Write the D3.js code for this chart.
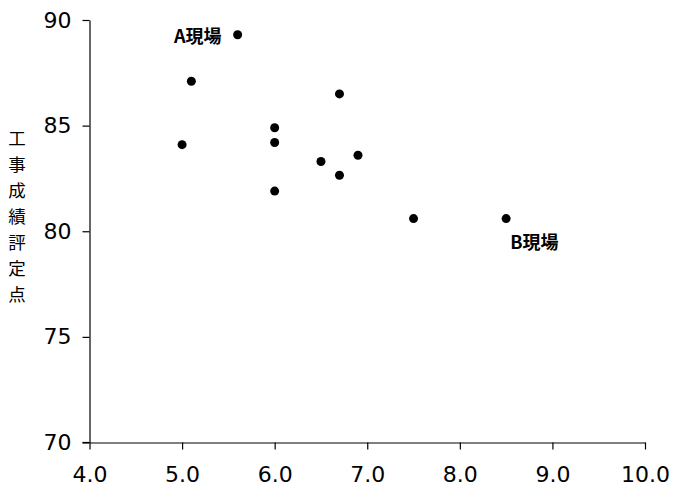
<!DOCTYPE html>
<html>
<head>
<meta charset="utf-8">
<script src="https://cdn.jsdelivr.net/npm/d3@7"></script>
<style>
  html, body { margin: 0; padding: 0; background: #fff; }
  svg { display: block; }
</style>
</head>
<body>
<script>
// ---- data ----
const xValues = [5.6, 5.1, 6.7, 6.0, 5.0, 6.0, 6.9, 6.5, 6.7, 6.0, 7.5, 8.5];
const yValues = [89.3, 87.1, 86.5, 84.9, 84.1, 84.2, 83.6, 83.3, 82.65, 81.9, 80.6, 80.6];
const xTicks = [4.0, 5.0, 6.0, 7.0, 8.0, 9.0, 10.0];
const yTicks = [70, 75, 80, 85, 90];
const annotations = [
  { text: "A現場", x: 5.6, y: 89.3 },
  { text: "B現場", x: 8.5, y: 80.6 }
];
const yTitle = "工事成績評定点";

const W = 686, H = 495;
const svg = d3.select("body").append("svg").attr("width", W).attr("height", H);

const x = d3.scaleLinear().domain([4, 10]).range([89.5, 645]);
const y = d3.scaleLinear().domain([70, 90]).range([442.5, 20]);

const tickFont = "'DejaVu Sans', sans-serif";

const xAxis = svg.append("g")
  .attr("transform", "translate(0,442.5)")
  .call(d3.axisBottom(x).tickValues(xTicks).tickFormat(d3.format(".1f")).tickSize(7).tickSizeOuter(0).tickPadding(17));
const yAxis = svg.append("g")
  .attr("transform", "translate(89.5,0)")
  .call(d3.axisLeft(y).tickValues(yTicks).tickFormat(d3.format("d")).tickSize(7).tickSizeOuter(0).tickPadding(11));

[xAxis, yAxis].forEach(g => {
  g.selectAll("path.domain").attr("stroke", "#000").attr("stroke-width", 1.2);
  g.selectAll(".tick line").attr("stroke", "#000").attr("stroke-width", 1.2);
  g.selectAll(".tick text").attr("fill", "#000")
    .style("font-family", tickFont).style("font-size", "22px");
});
// extend x-axis line to the left to meet the y tick at 70
svg.append("line")
  .attr("x1", x(4) - 7).attr("x2", x(4))
  .attr("y1", 442.5).attr("y2", 442.5)
  .attr("stroke", "#000").attr("stroke-width", 1.2);

// points
svg.append("g").selectAll("circle")
  .data(xValues.map((v, i) => ({ x: v, y: yValues[i] })))
  .join("circle")
  .attr("cx", d => x(d.x))
  .attr("cy", d => y(d.y))
  .attr("r", 4.5)
  .attr("fill", "#000");

// annotations
const ann = svg.append("g").style("font-family", "'Noto Sans CJK JP', sans-serif")
  .style("font-size", "18px").style("font-weight", "bold");
ann.append("text")
  .attr("x", x(annotations[0].x) - 16).attr("y", y(annotations[0].y) + 8)
  .attr("text-anchor", "end").text(annotations[0].text);
ann.append("text")
  .attr("x", x(annotations[1].x) + 4).attr("y", y(annotations[1].y) + 30.5)
  .attr("text-anchor", "start").text(annotations[1].text);

// vertical y-axis title, one character per line
const title = svg.append("g")
  .style("font-family", "'Noto Sans CJK JP', sans-serif")
  .style("font-size", "17.5px")
  .attr("text-anchor", "middle")
  .attr("fill", "#000");
Array.from(yTitle).forEach((ch, i) => {
  title.append("text").attr("x", 17).attr("y", 145 + i * 26).text(ch);
});
</script>
</body>
</html>
